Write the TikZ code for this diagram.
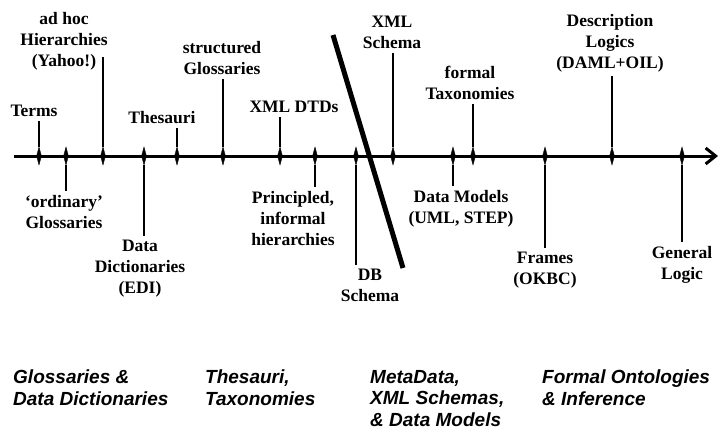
\documentclass[tikz,border=0pt]{standalone}
\usepackage{fontspec}
\setmainfont{Liberation Serif}
\setsansfont{Liberation Sans}
\usetikzlibrary{positioning}
\usetikzlibrary{arrows.meta}
\usetikzlibrary{shapes.geometric}

\begin{document}
\begin{tikzpicture}[
  x=1pt, y=-1pt,
  axmark/.style={draw,fill,diamond,minimum width=5pt,minimum height=18pt,inner sep=0pt},
  lbl/.style={align=center,inner sep=4pt,font=\bfseries\fontsize{17.5}{21}\selectfont},
  era/.style={align=left,inner sep=0pt,anchor=north west,font=\sffamily\bfseries\itshape\fontsize{19}{21.5}\selectfont},
  stem/.style={line width=1.5pt}
]

\useasboundingbox (0,0) rectangle (720,431);

\coordinate (s) at (14,156);
\coordinate (e) at (718,156);
\draw[line width=3pt,-{Straight Barb[length=10pt,width=16pt]}] (s) -- (e);

\node[axmark] (terms) at (39,156) {};
\node[axmark] (ord) at (66,156) {};
\node[axmark] (adhoc) at (103,156) {};
\node[axmark] (dd) at (144,156) {};
\node[axmark] (thes) at (177,156) {};
\node[axmark] (sg) at (223,156) {};
\node[axmark] (dtd) at (280,156) {};
\node[axmark] (pih) at (315,156) {};
\node[axmark] (db) at (356,156) {};
\node[axmark] (xs) at (393,156) {};
\node[axmark] (dm) at (453,156) {};
\node[axmark] (ft) at (473,156) {};
\node[axmark] (fr) at (545,156) {};
\node[axmark] (dl) at (612,156) {};
\node[axmark] (gl) at (682,156) {};

\node[lbl,anchor=south] (lterms) at (34,121) {Terms};
\node[lbl,anchor=south] (ladhoc) at (64,74) {ad hoc\\Hierarchies\\(Yahoo!)};
\node[lbl,anchor=south] (lthes) at (162,128) {Thesauri};
\node[lbl,anchor=south] (lsg) at (222,79) {structured\\Glossaries};
\node[lbl,anchor=south] (ldtd) at (294,117) {XML DTDs};
\node[lbl,anchor=south] (lxs) at (392,53) {XML\\Schema};
\node[lbl,anchor=south] (lft) at (470,104) {formal\\Taxonomies};
\node[lbl,anchor=south] (ldl) at (610,76) {Description\\Logics\\(DAML+OIL)};

\node[lbl,anchor=north] (lord) at (64,191) {`ordinary'\\Glossaries};
\node[lbl,anchor=north] (ldd) at (140,236) {Data\\Dictionaries\\(EDI)};
\node[lbl,anchor=north] (lpih) at (293,187) {Principled,\\informal\\hierarchies};
\node[lbl,anchor=north] (ldb) at (370,265) {DB\\Schema};
\node[lbl,anchor=north] (ldm) at (461,186) {Data Models\\(UML, STEP)};
\node[lbl,anchor=north] (lfr) at (545,248) {Frames\\(OKBC)};
\node[lbl,anchor=north] (lgl) at (682,242) {General\\Logic};

\coordinate (adhocend) at (103,57);

\path (terms) edge[stem] (terms |- lterms.south)
(adhoc) edge[stem] (adhocend)
(thes) edge[stem] (thes |- lthes.south)
(sg) edge[stem] (sg |- lsg.south)
(dtd) edge[stem] (dtd |- ldtd.south)
(xs) edge[stem] (xs |- lxs.south)
(ft) edge[stem] (ft |- lft.south)
(dl) edge[stem] (dl |- ldl.south)
(ord) edge[stem] (ord |- lord.north)
(dd) edge[stem] (dd |- ldd.north)
(pih) edge[stem] (pih |- lpih.north)
(db) edge[stem] (db |- ldb.north)
(dm) edge[stem] (dm |- ldm.north)
(fr) edge[stem] (fr |- lfr.north)
(gl) edge[stem] (gl |- lgl.north)
;

\coordinate (cuttop) at (333,35);
\coordinate (cutbot) at (403,268);
\draw[line width=5pt] (cuttop) -- (cutbot);

\node[era] (e1) at (13,370) {Glossaries \&\\Data Dictionaries};
\node[era] (e2) at (205,370) {Thesauri,\\Taxonomies};
\node[era] (e3) at (370,370) {MetaData,\\XML Schemas,\\\& Data Models};
\node[era] (e4) at (542,370) {Formal Ontologies\\\& Inference};

\end{tikzpicture}
\end{document}
